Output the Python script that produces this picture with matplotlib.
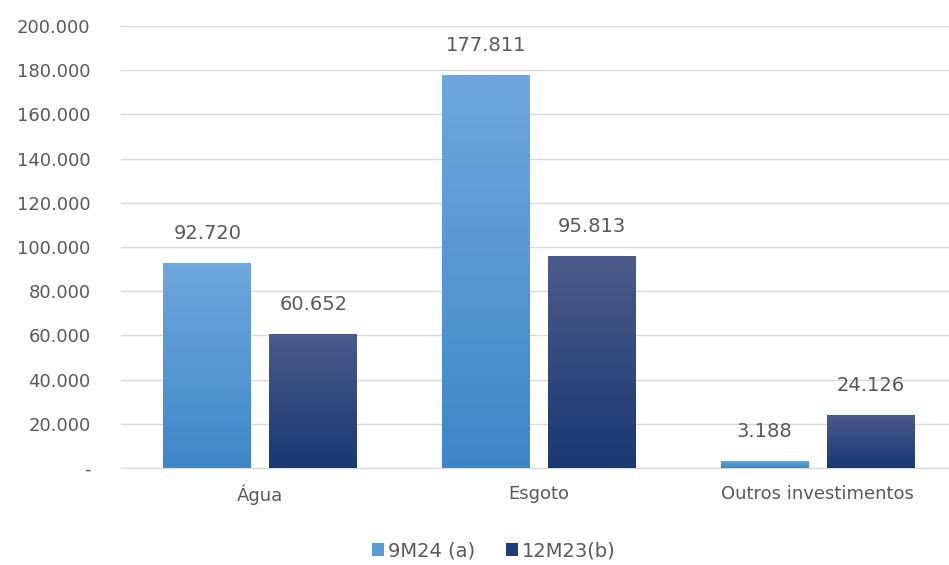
import numpy as np
import matplotlib
matplotlib.use("Agg")
import matplotlib.pyplot as plt
from matplotlib.colors import LinearSegmentedColormap
from matplotlib.ticker import FuncFormatter
from matplotlib.patches import Patch

# Data
categories = ["Água", "Esgoto", "Outros investimentos"]
series_names = ["9M24 (a)", "12M23(b)"]
values_9m24 = [92720, 177811, 3188]
values_12m23 = [60652, 95813, 24126]

# Gradient colours (top, bottom) per series
grad_light = ("#70a6dd", "#3d87c9")
grad_dark = ("#4b5b8b", "#1a3872")
legend_colors = ["#5b9bd5", "#203f7a"]

text_color = "#595959"
plt.rcParams["font.family"] = ["DejaVu Sans"]

fig = plt.figure(figsize=(9.49, 5.65), dpi=100)
ax = fig.add_axes([121 / 949, 97 / 565, 836 / 949, 442 / 565])

x = np.arange(len(categories))
width = 0.315
offset = 0.19


def gradient_bars(xs, vals, grad, label):
    bars = ax.bar(xs, vals, width, color="none", edgecolor="none", label=label, zorder=3)
    cmap = LinearSegmentedColormap.from_list("g", [grad[1], grad[0]])
    for b in bars:
        x0, y0 = b.get_x(), b.get_y()
        w, h = b.get_width(), b.get_height()
        grad_img = np.linspace(0, 1, 256).reshape(-1, 1)
        im = ax.imshow(grad_img, cmap=cmap, origin="lower", aspect="auto",
                       extent=[x0, x0 + w, y0, y0 + h], zorder=3)
        im.set_clip_path(b)
    return bars


gradient_bars(x - offset, values_9m24, grad_light, series_names[0])
gradient_bars(x + offset, values_12m23, grad_dark, series_names[1])

# value labels
for xs, vals in [(x - offset, values_9m24), (x + offset, values_12m23)]:
    for xi, v in zip(xs, vals):
        ax.text(xi, v + 9000, f"{v:,}".replace(",", "."), ha="center", va="bottom",
                fontsize=14, color=text_color, zorder=4)

ax.set_xlim(-0.5, 2.5)
ax.set_ylim(0, 200000)
ax.set_yticks(np.arange(0, 200001, 20000))
ax.yaxis.set_major_formatter(FuncFormatter(
    lambda v, p: "-" if v == 0 else f"{int(v):,}".replace(",", ".")))
ax.set_xticks(x)
ax.set_xticklabels(categories)
ax.tick_params(axis="both", length=0, labelsize=13, colors=text_color)
ax.tick_params(axis="y", pad=22)
ax.tick_params(axis="x", pad=12)

ax.grid(axis="y", color="#d9d9d9", linewidth=1)
ax.set_axisbelow(True)
for s in ["top", "right", "left"]:
    ax.spines[s].set_visible(False)
ax.spines["bottom"].set_color("#d9d9d9")

# Legend with solid squares
handles = [Patch(facecolor=c, edgecolor="none") for c in legend_colors]
fig.legend(handles, series_names, loc="center", bbox_to_anchor=(494 / 949, 1 - 551 / 565),
           ncol=2, frameon=False, fontsize=14, labelcolor=text_color,
           handlelength=0.6, handleheight=0.6, handletextpad=0.2, columnspacing=1.6)

fig.savefig("out.png", dpi=100)
